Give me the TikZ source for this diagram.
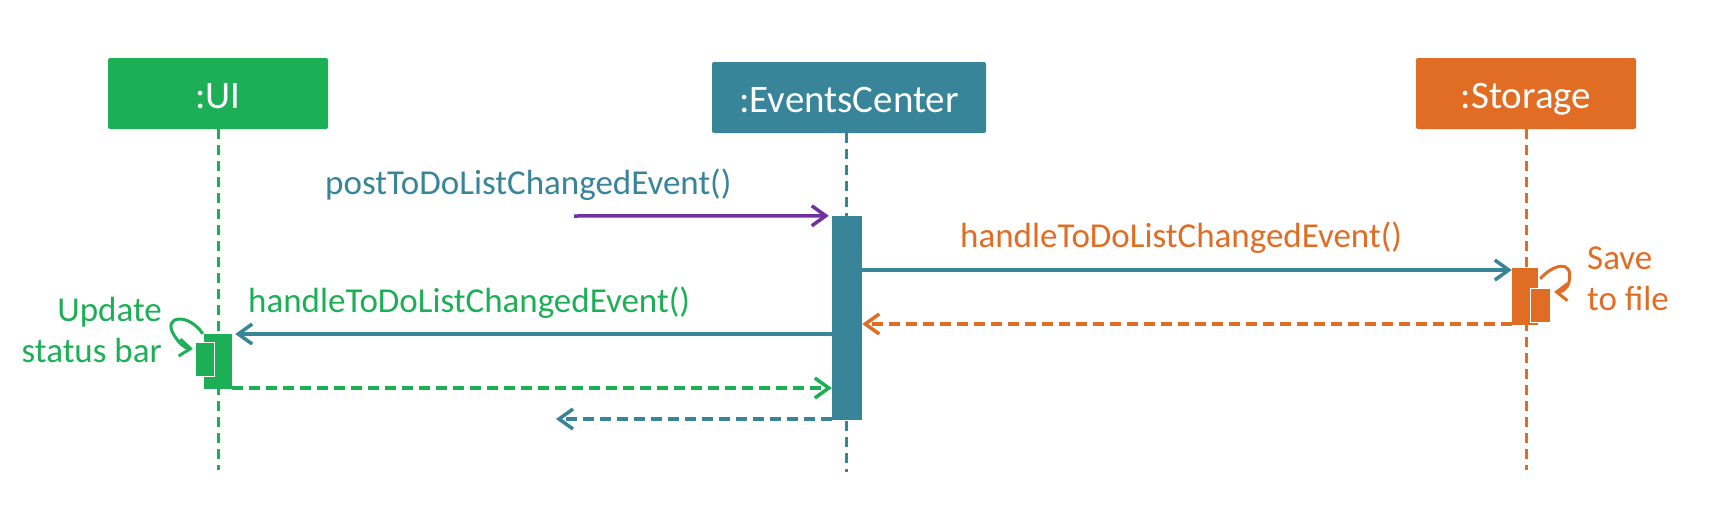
\documentclass[tikz,border=0pt]{standalone}
\usepackage{fontspec}
\setmainfont{Carlito}
\usetikzlibrary{arrows.meta,calc}
\definecolor{cgreen}{RGB}{29,175,85}
\definecolor{cteal}{RGB}{56,132,153}
\definecolor{corange}{RGB}{225,108,36}
\definecolor{cpurple}{RGB}{112,48,160}
\newcommand\lblfont{\fontsize{35pt}{41pt}\selectfont}
\newcommand\boxfont{\fontsize{39pt}{44pt}\selectfont}
\begin{document}
\begin{tikzpicture}[x=1pt,y=-1pt,
  objbox/.style={fill=#1, rounded corners=2pt, text=white, font=\boxfont, minimum height=71pt, inner sep=0pt, text height=30pt, text depth=0pt},
  lifeline/.style={draw=#1, line width=3pt, dash pattern=on 10pt off 6pt},
  actbar/.style={fill=#1, inner sep=0pt},
  innerbar/.style={fill=#1, draw=white, line width=1.2pt, inner sep=0pt},
  msg/.style={draw=#1, line width=3.5pt, -{Straight Barb[length=14pt,width=20pt]}},
  retmsg/.style={msg=#1, dash pattern=on 11pt off 6pt},
  selfmsg/.style={draw=#1, line width=3pt, -{Straight Barb[length=11pt,width=17pt]}},
  lbl/.style={text=#1, font=\lblfont, inner sep=0pt}
]
\useasboundingbox (0,0) rectangle (1718,530);

% objects
\node[objbox=cgreen, minimum width=220pt] (ui) at (218,93.5) {:UI};
\node[objbox=cteal, minimum width=274pt] (ev) at (849,97.5) {:EventsCenter};
\node[objbox=corange, minimum width=220pt] (st) at (1526,93.5) {:Storage};

% lifeline ends
\coordinate (uiend) at (218,470);
\coordinate (evend) at (846,472);
\coordinate (stend) at (1526,470);
\draw[lifeline=cgreen] (ui.south) -- (uiend);
\draw[lifeline=cteal] (ev.south -| evend) -- (evend);
\draw[lifeline=corange] (st.south) -- (stend);

% activations
\node[actbar=cteal, minimum width=30pt, minimum height=204pt] (evAct) at (847,318) {};
\node[actbar=cgreen, minimum width=28pt, minimum height=55pt] (uiAct) at (218,361.5) {};
\node[innerbar=cgreen, minimum width=19pt, minimum height=34pt] (uiIn) at (205,359.5) {};
\node[actbar=corange, minimum width=26pt, minimum height=57pt] (stAct) at (1525,296.5) {};
\node[innerbar=corange, minimum width=20pt, minimum height=34pt] (stIn) at (1540.5,305.5) {};

% message rows
\coordinate (y1) at (0,270);
\coordinate (y2) at (0,324);
\coordinate (y3) at (0,334);
\coordinate (y4) at (0,388);
\coordinate (y5) at (0,419);
\coordinate (pstart) at (574,216);
\coordinate (rend) at (556,419);

\draw[msg=cpurple, shorten >=3pt] (pstart) -- (evAct.north west);
\draw[msg=cteal] (evAct.east |- y1) -- (stAct.west |- y1);
\draw[retmsg=corange] (stAct.west |- y2) -- (evAct.east |- y2);
\draw[msg=cteal, shorten >=3pt] (evAct.west |- y3) -- (uiAct.east |- y3);
\draw[retmsg=cgreen] (uiAct.east |- y4) -- (evAct.west |- y4);
\draw[retmsg=cteal] (evAct.west |- y5) -- (rend);

% self calls
\draw[selfmsg=cgreen] ($(uiAct.north west)+(-1,0)$) .. controls (188,312) and (162,316) .. (174,335) .. controls (179,343) and (184,348) .. ($(uiIn.north west)+(-2,7)$);
\draw[selfmsg=corange] ($(stAct.north east)+(2,11)$) .. controls (1552,265) and (1574,258) .. (1569,282) .. controls (1567,290) and (1561,292) .. ($(stIn.north east)+(3,4)$);

% labels
\node[lbl=cteal, anchor=base west] (lpost) at (325,194) {postToDoListChangedEvent()};
\node[lbl=corange, anchor=base west] (lst) at (960,247) {handleToDoListChangedEvent()};
\node[lbl=cgreen, anchor=base west] (lui) at (248,312) {handleToDoListChangedEvent()};
\node[lbl=cgreen, anchor=base east, align=right] (lupd) at (162,362) {Update\\status bar};
\node[lbl=corange, anchor=base west, align=left] (lsave) at (1587,310) {Save\\to file};
\end{tikzpicture}
\end{document}
